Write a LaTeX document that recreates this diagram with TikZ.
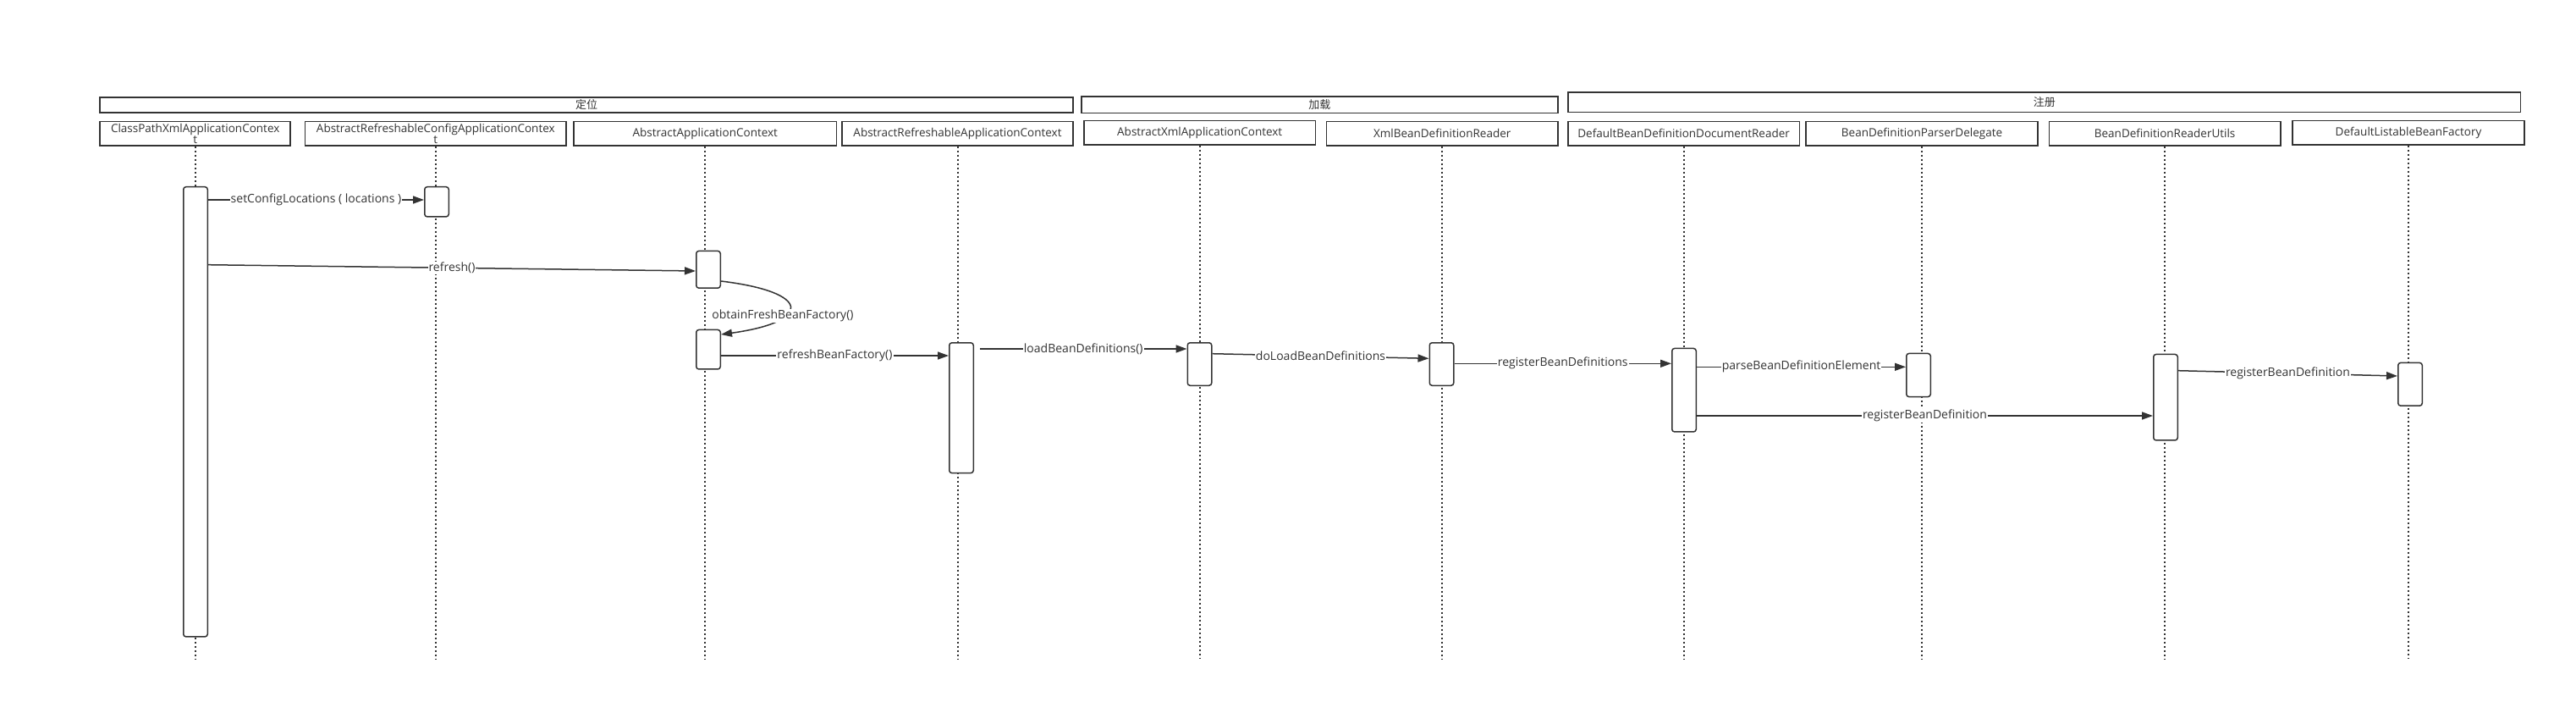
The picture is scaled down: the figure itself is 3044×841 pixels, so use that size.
\documentclass[tikz,border=0pt]{standalone}
\usepackage{fontspec}
\setmainfont{Open Sans}
\newfontfamily\cjk{Noto Sans CJK SC}
\usetikzlibrary{arrows.meta,calc}
\definecolor{ink}{HTML}{333333}
\begin{document}
\begin{tikzpicture}[x=1pt,y=-1pt,
  hdr/.style={draw=ink, line width=1.6pt, fill=white, minimum height=28.4pt, inner sep=0pt, text=ink, font=\fontsize{13.5}{13.5}\selectfont, align=center},
  grp/.style={draw=ink, line width=1.6pt, fill=white, inner sep=0pt, text=ink, font=\cjk\fontsize{13}{13}\selectfont},
  act/.style={draw=ink, line width=1.5pt, fill=white, rounded corners=3pt, minimum width=28.5pt, inner sep=0pt},
  life/.style={draw=ink, line width=2pt, dash pattern=on 2pt off 3pt},
  msg/.style={draw=ink, line width=1.5pt, -{Triangle[length=13pt,width=9pt]}},
  lbl/.style={fill=white, inner sep=1pt, text=ink, font=\fontsize{14}{14}\selectfont}
]
\useasboundingbox[fill=white] (0,0) rectangle (3044,841);
\coordinate (bot) at (0,778.3);

% group boxes
\node[grp, minimum width=1149.7pt, minimum height=18.4pt] (g1) at (693,124) {定位};
\node[grp, minimum width=563.1pt, minimum height=19.4pt] (g2) at (1559.4,123.8) {加载};
\node[grp, minimum width=1125.6pt, minimum height=23.7pt] (g3) at (2415.8,120.7) {注册};

% header boxes
\node[hdr, minimum width=225.1pt] (b1) at (230.7,157.7) {ClassPathXmlApplicationContex\\t};
\node[hdr, minimum width=308.9pt] (b2) at (514.8,157.7) {AbstractRefreshableConfigApplicationContex\\t};
\node[hdr, minimum width=310.6pt] (b3) at (833.3,157.7) {AbstractApplicationContext};
\node[hdr, minimum width=272.7pt] (b4) at (1131.5,157.7) {AbstractRefreshableApplicationContext};
\node[hdr, minimum width=273.9pt] (b5) at (1417.7,156.6) {AbstractXmlApplicationContext};
\node[hdr, minimum width=273.4pt] (b6) at (1704.2,157.7) {XmlBeanDefinitionReader};
\node[hdr, minimum width=273.6pt] (b7) at (1989.6,157.7) {DefaultBeanDefinitionDocumentReader};
\node[hdr, minimum width=274.3pt] (b8) at (2271,157.7) {BeanDefinitionParserDelegate};
\node[hdr, minimum width=273.4pt] (b9) at (2558.1,157.7) {BeanDefinitionReaderUtils};
\node[hdr, minimum width=274.4pt] (b10) at (2846,156.6) {DefaultListableBeanFactory};

% lifelines
\foreach \b in {b1,b2,b3,b4,b5,b6,b7,b8,b9,b10}
  \draw[life] (\b.south) -- (\b.south |- bot);

% activations
\node[act, minimum height=531.2pt] (a1) at (231,486.3) {};
\node[act, minimum height=35.2pt] (a2) at (516,238.3) {};
\node[act, minimum height=43.8pt] (a3) at (837,318.3) {};
\node[act, minimum height=46.5pt] (a4) at (837,412.7) {};
\node[act, minimum height=153.8pt] (a5) at (1136,481.7) {};
\node[act, minimum height=50.5pt] (a6) at (1417.5,430) {};
\node[act, minimum height=50.5pt] (a7) at (1703.5,430) {};
\node[act, minimum height=98.5pt] (a8) at (1990,460.7) {};
\node[act, minimum height=51.1pt] (a9) at (2267,443) {};
\node[act, minimum height=101.5pt] (a10) at (2559,469.2) {};
\node[act, minimum height=50.8pt] (a11) at (2848,453.8) {};

% messages
\draw[msg] (a1.east |- 0,236) -- node[lbl] {setConfigLocations ( locations )} (a2.west |- 0,236);
\draw[msg] (a1.east |- 0,312.7) -- node[lbl] {refresh()} (a3.west |- 0,320);
\draw[msg] ([yshift=-13.7pt]a3.east) .. controls (960,345) and (960,380) .. ([yshift=17.7pt]a4.east);
\node[lbl] (l3) at (925,372.7) {obtainFreshBeanFactory()};
\draw[msg] (a4.east |- 0,420) -- node[lbl] {refreshBeanFactory()} (a5.west |- 0,420);
\draw[msg] ([xshift=7pt]a5.east |- 0,412) -- node[lbl] {loadBeanDefinitions()} (a6.west |- 0,412);
\draw[msg] (a6.east |- 0,417.7) -- node[lbl] {doLoadBeanDefinitions} (a7.west |- 0,423.3);
\draw[msg] (a7.east |- 0,429.3) -- node[lbl] {registerBeanDefinitions} (a8.west |- 0,429.3);
\draw[msg] (a8.east |- 0,433.3) -- node[lbl] {parseBeanDefinitionElement} (a9.west |- 0,433.3);
\draw[msg] (a8.east |- 0,491) -- node[lbl] {registerBeanDefinition} (a10.west |- 0,491);
\draw[msg] (a10.east |- 0,437.7) -- node[lbl] {registerBeanDefinition} (a11.west |- 0,444);
\end{tikzpicture}
\end{document}
